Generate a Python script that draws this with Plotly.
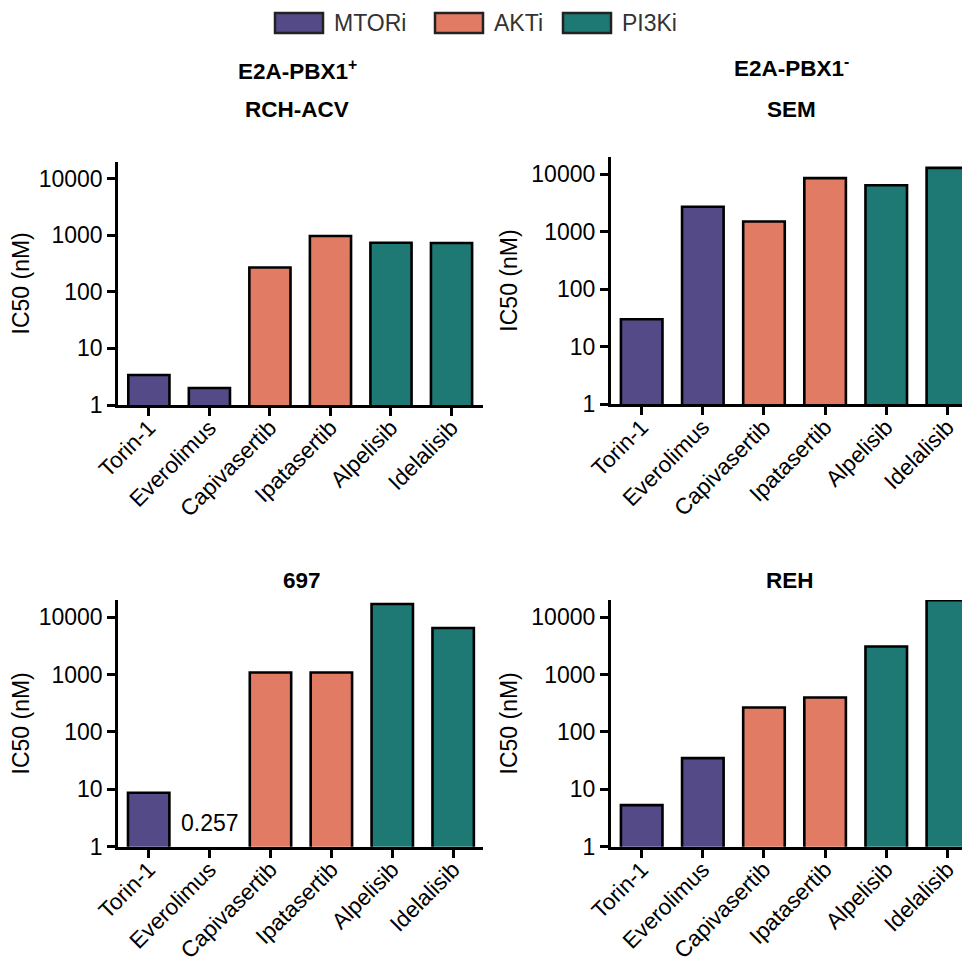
import math
import plotly.graph_objects as go

drugs = ["Torin-1", "Everolimus", "Capivasertib", "Ipatasertib", "Alpelisib", "Idelalisib"]
drug_class = ["MTORi", "MTORi", "AKTi", "AKTi", "PI3Ki", "PI3Ki"]
class_names = ["MTORi", "AKTi", "PI3Ki"]
class_colors = {"MTORi": "#544A87", "AKTi": "#E27B63", "PI3Ki": "#1E7874"}

ic50_rch_acv = [3.4, 2.0, 270, 970, 740, 730]
ic50_sem = [30, 2700, 1500, 8500, 6400, 12800]
ic50_697 = [8.7, 0.257, 1090, 1090, 17000, 6500]
ic50_reh = [5.3, 35, 267, 400, 3100, 19800]

y_tick_vals = [1, 10, 100, 1000, 10000]
y_tick_text = ["1", "10", "100", "1000", "10000"]

panels = [
    ("RCH-ACV", ic50_rch_acv),
    ("SEM", ic50_sem),
    ("697", ic50_697),
    ("REH", ic50_reh),
]

FONT = "Liberation Sans, Arial, Helvetica, sans-serif"
# the page body adds an 8px margin, so the figure is shrunk by it
OFF = 8
W, H = 970 - OFF, 967 - OFF


def fx(px):
    return (px - OFF) / W


def fy(py):
    return 1 - (py - OFF) / H


# pixel geometry of the four plot areas: (x0, x1, ytop, ybottom, xrange)
geo = [
    (118, 483, 161.7, 405.0, [-0.51, 5.52]),
    (610.7, 970, 156.7, 404.3, [-0.507, 5.37]),
    (118, 483, 600.0, 846.7, [-0.504, 5.49]),
    (610.7, 970, 600.0, 846.7, [-0.507, 5.37]),
]

fig = go.Figure()
colors = [class_colors[c] for c in drug_class]

layout = dict(
    template="none",
    width=W, height=H,
    margin=dict(l=0, r=0, t=0, b=0, pad=0),
    paper_bgcolor="white", plot_bgcolor="white",
    showlegend=False,
    font=dict(family=FONT, size=23, color="black"),
)

for i, ((name, vals), (x0, x1, yt, yb, xr)) in enumerate(zip(panels, geo)):
    n = "" if i == 0 else str(i + 1)
    fig.add_trace(go.Bar(
        x=drugs, y=vals,
        marker=dict(color=colors, line=dict(color="black", width=2.6)),
        width=0.68,
        xaxis="x" + n, yaxis="y" + n,
        hovertemplate="%{x}: %{y}<extra></extra>",
    ))
    layout["xaxis" + n] = dict(
        domain=[fx(x0), min(1.0, fx(x1))], anchor="y" + n,
        type="category", range=xr, automargin=False,
        showline=True, linewidth=2.6, linecolor="black",
        ticks="outside", ticklen=8, tickwidth=2.6, tickcolor="black",
        tickangle=-45, tickfont=dict(size=22.5, color="black"),
        ticklabelstandoff=-10,
        showgrid=False, zeroline=False, fixedrange=True,
    )
    layout["yaxis" + n] = dict(
        domain=[fy(yb), fy(yt)], anchor="x" + n,
        type="log", range=[0, math.log10(20000)], automargin=False,
        tickvals=y_tick_vals, ticktext=y_tick_text,
        showline=True, linewidth=2.6, linecolor="black",
        ticks="outside", ticklen=8, tickwidth=2.6, tickcolor="black",
        tickfont=dict(size=23, color="black"),
        showgrid=False, zeroline=False,
        title=dict(text="IC50 (nM)", font=dict(size=23, color="black"), standoff=8),
    )

fig.update_layout(**layout)

annotations = []
# panel titles
title_specs = [
    ("E2A-PBX1<sup>+</sup>", 297, 70),
    ("RCH-ACV", 297, 110),
    ("E2A-PBX1<sup>-</sup>", 791, 67),
    ("SEM", 791, 110),
    ("697", 302, 580),
    ("REH", 790, 580),
]
for txt, px, py in title_specs:
    annotations.append(dict(
        text="<b>" + txt + "</b>", x=fx(px), y=fy(py),
        xref="paper", yref="paper", xanchor="center", yanchor="middle",
        showarrow=False, font=dict(size=22.5, family=FONT, color="black"),
    ))

# value label for the off-scale bar (697, Everolimus)
annotations.append(dict(
    text=str(ic50_697[1]), x=drugs[1], y=0.41, xref="x3", yref="y3",
    xanchor="center", yanchor="middle", showarrow=False,
    font=dict(size=23, family=FONT, color="black"),
))

# legend (boxes + labels)
shapes = []
legend_x = [275, 435, 563]
for cname, lx in zip(class_names, legend_x):
    shapes.append(dict(
        type="rect", xref="paper", yref="paper",
        x0=fx(lx), x1=fx(lx + 48), y0=fy(33), y1=fy(13),
        fillcolor=class_colors[cname], line=dict(color="#222222", width=2.5),
    ))
    annotations.append(dict(
        text=cname, x=fx(lx + 57), y=fy(23), xref="paper", yref="paper",
        xanchor="left", yanchor="middle", showarrow=False,
        font=dict(size=23, family=FONT, color="#333333"),
    ))

fig.update_layout(annotations=annotations, shapes=shapes)
fig.write_html("out.html")
